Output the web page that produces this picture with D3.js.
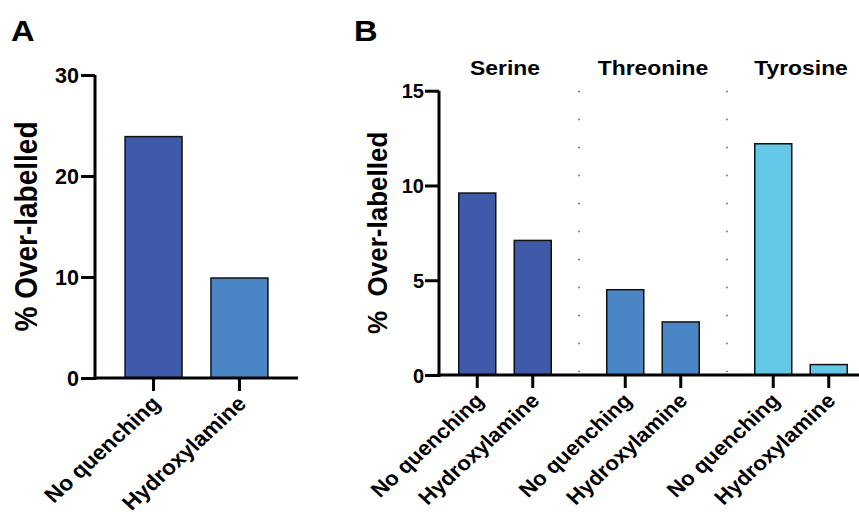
<!DOCTYPE html>
<html>
<head>
<meta charset="utf-8">
<title>% Over-labelled</title>
<script src="https://d3js.org/d3.v7.min.js"></script>
<style>
  body { margin: 0; background: #fff; }
  svg { display: block; font-family: "Liberation Sans", Arial, sans-serif; font-weight: bold; }
  .axis path, .axis line { stroke: #000; stroke-width: 3px; }
</style>
</head>
<body>
<svg width="859" height="521"></svg>
<script>
// ---- data ----
var conditions = ["No quenching", "Hydroxylamine"];

// panel A
var valuesA = [23.9, 9.9];
var ticksA = [0, 10, 20, 30];

// panel B
var groupsB = ["Serine", "Threonine", "Tyrosine"];
var serineValues = [9.6, 7.1];
var threonineValues = [4.5, 2.8];
var tyrosineValues = [12.2, 0.55];
var ticksB = [0, 5, 10, 15];

var colorA = ["#3f5aa9", "#4a86c5"];
var colorB = ["#3f5aa9", "#4a86c5", "#62c8e5"];

// the original figure's lettering is a little wider than normal
var SX = 1.09;

var svg = d3.select("svg");

// panel letters
svg.append("text").attr("transform", "translate(11,41) scale(" + SX + ",1)").style("font-size", "30px").text("A");
svg.append("text").attr("transform", "translate(354,41) scale(" + SX + ",1)").style("font-size", "30px").text("B");

// ---------- Panel A ----------
var yA = d3.scaleLinear().domain([0, 30]).range([378, 75]);
var xA = d3.scaleBand().domain(conditions).range([95, 298]).paddingInner(0.337).paddingOuter(0.35);

var gA = svg.append("g");

gA.selectAll("rect.bar")
  .data(conditions)
  .enter().append("rect")
    .attr("class", "bar")
    .attr("x", function(d) { return xA(d); })
    .attr("width", xA.bandwidth())
    .attr("y", function(d, i) { return yA(valuesA[i]); })
    .attr("height", function(d, i) { return yA(0) - yA(valuesA[i]); })
    .style("fill", function(d, i) { return colorA[i]; })
    .style("stroke", "#111")
    .style("stroke-width", 1.5);

// y axis
var axA = gA.append("g")
  .attr("class", "axis")
  .attr("transform", "translate(95,0)")
  .call(d3.axisLeft(yA).tickValues(ticksA).tickSize(14).tickSizeOuter(0).tickPadding(2));
axA.selectAll(".tick text").style("font-size", "21.5px").attr("dy", "0.36em");
axA.select(".domain").attr("d", "M0," + (yA(0) + 2) + "V" + yA(30));

// x axis
var axAx = gA.append("g")
  .attr("class", "axis")
  .attr("transform", "translate(0," + yA(0) + ")")
  .call(d3.axisBottom(xA).tickSize(13).tickSizeOuter(0).tickFormat(""));
axAx.select(".domain").attr("d", "M94,0H298");

gA.selectAll("text.xlab")
  .data(conditions)
  .enter().append("text")
    .attr("class", "xlab")
    .attr("text-anchor", "end")
    .attr("transform", function(d) {
      return "translate(" + (xA(d) + xA.bandwidth() / 2 + 8) + "," + (yA(0) + 27) + ") scale(" + SX + ",1) rotate(-45)";
    })
    .style("font-size", "21px")
    .text(function(d) { return d; });

gA.append("text")
  .attr("transform", "translate(37," + (yA(0) + yA(30)) / 2 + ") scale(" + SX + ",1) rotate(-90)")
  .attr("text-anchor", "middle")
  .style("font-size", "28px")
  .text("% Over-labelled");

// ---------- Panel B ----------
var valuesB = [serineValues, threonineValues, tyrosineValues];
var yB = d3.scaleLinear().domain([0, 15]).range([375, 90.7]);
var xOuter = d3.scaleBand().domain(groupsB).range([431, 875]);
var xInner = d3.scaleBand().domain(conditions).range([0, xOuter.bandwidth()]).paddingInner(0.333).paddingOuter(0.5);

var gB = svg.append("g");

// dotted separators between groups
gB.selectAll("line.sep")
  .data(groupsB.slice(1))
  .enter().append("line")
    .attr("class", "sep")
    .attr("x1", function(d) { return xOuter(d); })
    .attr("x2", function(d) { return xOuter(d); })
    .attr("y1", yB(15))
    .attr("y2", yB(0) - 3)
    .style("stroke", "#555")
    .style("stroke-width", 1.5)
    .style("stroke-dasharray", "1.5 26.5");

var groupG = gB.selectAll("g.group")
  .data(groupsB)
  .enter().append("g")
    .attr("class", "group")
    .attr("transform", function(d) { return "translate(" + xOuter(d) + ",0)"; });

groupG.selectAll("rect")
  .data(function(d, gi) { return conditions.map(function(c, ci) { return { c: c, v: valuesB[gi][ci], g: gi }; }); })
  .enter().append("rect")
    .attr("x", function(d) { return xInner(d.c); })
    .attr("width", xInner.bandwidth())
    .attr("y", function(d) { return yB(d.v); })
    .attr("height", function(d) { return yB(0) - yB(d.v); })
    .style("fill", function(d) { return colorB[d.g]; })
    .style("stroke", "#111")
    .style("stroke-width", 1.5);

// group titles
gB.selectAll("text.gtitle")
  .data(groupsB)
  .enter().append("text")
    .attr("class", "gtitle")
    .attr("transform", function(d) {
      return "translate(" + (xOuter(d) + xOuter.bandwidth() / 2) + ",75) scale(" + SX + ",1)";
    })
    .attr("text-anchor", "middle")
    .style("font-size", "21px")
    .text(function(d) { return d; });

// y axis
var axB = gB.append("g")
  .attr("class", "axis")
  .attr("transform", "translate(439,0)")
  .call(d3.axisLeft(yB).tickValues(ticksB).tickSize(14).tickSizeOuter(0).tickPadding(1));
axB.selectAll(".tick text").style("font-size", "20px").attr("dy", "0.36em");
axB.select(".domain").attr("d", "M0," + (yB(0) + 2) + "V" + yB(15));

// x axis line
gB.append("line")
  .attr("x1", 437).attr("x2", 859)
  .attr("y1", yB(0)).attr("y2", yB(0))
  .style("stroke", "#000").style("stroke-width", 3);

// x ticks and labels per bar
var tickData = [];
groupsB.forEach(function(g) {
  conditions.forEach(function(c) {
    tickData.push({ g: g, c: c, x: xOuter(g) + xInner(c) + xInner.bandwidth() / 2 });
  });
});

gB.selectAll("line.xtick")
  .data(tickData)
  .enter().append("line")
    .attr("class", "xtick")
    .attr("x1", function(d) { return d.x; })
    .attr("x2", function(d) { return d.x; })
    .attr("y1", yB(0))
    .attr("y2", yB(0) + 13)
    .style("stroke", "#000")
    .style("stroke-width", 3);

gB.selectAll("text.xlab")
  .data(tickData)
  .enter().append("text")
    .attr("class", "xlab")
    .attr("text-anchor", "end")
    .attr("transform", function(d) {
      return "translate(" + (d.x + 8) + "," + (yB(0) + 27) + ") scale(" + SX + ",1) rotate(-45)";
    })
    .style("font-size", "20.5px")
    .text(function(d) { return d.c; });

gB.append("text")
  .attr("transform", "translate(387," + (yB(0) + yB(15)) / 2 + ") scale(" + SX + ",1) rotate(-90)")
  .attr("text-anchor", "middle")
  .style("font-size", "26px")
  .text("%\u00a0\u00a0Over-labelled");
</script>
</body>
</html>
